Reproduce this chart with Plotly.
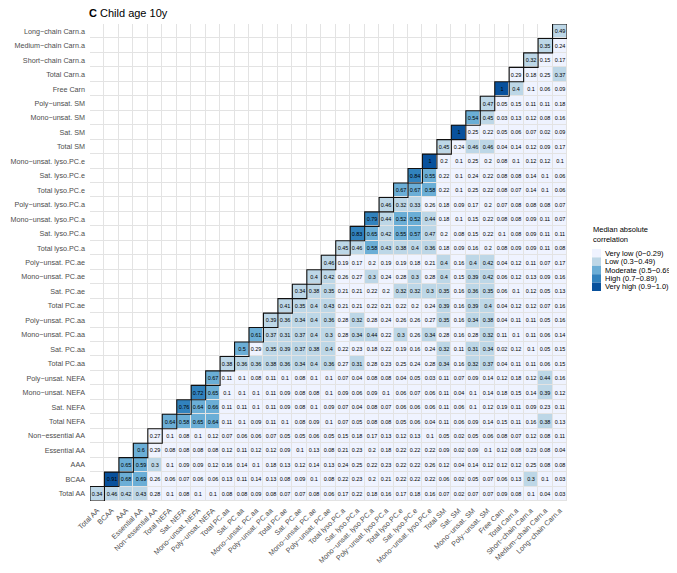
import plotly.graph_objects as go

# Variable groups (x and y categories, bottom-to-top / left-to-right)
labels = ["Total AA", "BCAA", "AAA", "Essential AA", "Non\u2212essential AA",
          "Total NEFA", "Sat. NEFA", "Mono\u2212unsat. NEFA", "Poly\u2212unsat. NEFA",
          "Total PC.aa", "Sat. PC.aa", "Mono\u2212unsat. PC.aa", "Poly\u2212unsat. PC.aa",
          "Total PC.ae", "Sat. PC.ae", "Mono\u2212unsat. PC.ae", "Poly\u2212unsat. PC.ae",
          "Total lyso.PC.a", "Sat. lyso.PC.a", "Mono\u2212unsat. lyso.PC.a", "Poly\u2212unsat. lyso.PC.a",
          "Total lyso.PC.e", "Sat. lyso.PC.e", "Mono\u2212unsat. lyso.PC.e",
          "Total SM", "Sat. SM", "Mono\u2212unsat. SM", "Poly\u2212unsat. SM",
          "Free Carn", "Total Carn.a", "Short\u2212chain Carn.a", "Medium\u2212chain Carn.a", "Long\u2212chain Carn.a"]

# Each row: values from the diagonal cell to the right-most column
row_total_aa = [0.34, 0.46, 0.42, 0.43, 0.28, 0.1, 0.08, 0.1, 0.1, 0.08,
                0.08, 0.09, 0.08, 0.07, 0.07, 0.08, 0.06, 0.17, 0.22,
                0.18, 0.16, 0.17, 0.18, 0.16, 0.07, 0.02, 0.07, 0.07, 0.09,
                0.08, 0.1, 0.04, 0.03]
row_bcaa = [0.91, 0.68, 0.69, 0.26, 0.06, 0.07, 0.06, 0.06, 0.13,
            0.11, 0.14, 0.13, 0.08, 0.09, 0.1, 0.08, 0.22, 0.23,
            0.2, 0.21, 0.22, 0.22, 0.22, 0.06, 0.02, 0.05, 0.07, 0.06,
            0.13, 0.3, 0.1, 0.03]
row_aaa = [0.65, 0.59, 0.3, 0.1, 0.09, 0.09, 0.12, 0.16,
           0.14, 0.1, 0.18, 0.13, 0.12, 0.14, 0.13, 0.24, 0.25,
           0.22, 0.23, 0.22, 0.22, 0.26, 0.12, 0.04, 0.14, 0.12, 0.12,
           0.12, 0.25, 0.08, 0.08]
row_essential_aa = [0.6, 0.29, 0.08, 0.08, 0.08, 0.08, 0.12,
                    0.11, 0.12, 0.12, 0.09, 0.1, 0.13, 0.08, 0.21, 0.23,
                    0.2, 0.18, 0.22, 0.22, 0.22, 0.09, 0.02, 0.09, 0.1, 0.12,
                    0.08, 0.23, 0.08, 0.04]
row_nonessential_aa = [0.27, 0.1, 0.08, 0.1, 0.12, 0.07,
                       0.06, 0.06, 0.07, 0.05, 0.05, 0.06, 0.05, 0.15, 0.18,
                       0.17, 0.13, 0.12, 0.13, 0.1, 0.05, 0.02, 0.05, 0.06, 0.08,
                       0.07, 0.12, 0.08, 0.11]
row_total_nefa = [0.64, 0.58, 0.65, 0.64, 0.11,
                  0.1, 0.09, 0.11, 0.1, 0.08, 0.09, 0.1, 0.07, 0.05,
                  0.08, 0.08, 0.05, 0.06, 0.04, 0.11, 0.06, 0.09, 0.14, 0.15,
                  0.11, 0.16, 0.38, 0.13]
row_sat_nefa = [0.76, 0.64, 0.66, 0.11,
                0.11, 0.1, 0.11, 0.09, 0.08, 0.1, 0.09, 0.07, 0.04,
                0.08, 0.07, 0.06, 0.06, 0.06, 0.11, 0.06, 0.1, 0.12, 0.19,
                0.11, 0.09, 0.23, 0.11]
row_mono_nefa = [0.72, 0.65, 0.1,
                 0.1, 0.1, 0.11, 0.09, 0.08, 0.08, 0.1, 0.09, 0.06,
                 0.09, 0.1, 0.06, 0.07, 0.06, 0.11, 0.04, 0.1, 0.14, 0.18,
                 0.15, 0.14, 0.39, 0.12]
row_poly_nefa = [0.67, 0.11,
                 0.1, 0.08, 0.11, 0.1, 0.08, 0.1, 0.1, 0.07, 0.04,
                 0.08, 0.08, 0.04, 0.05, 0.03, 0.11, 0.07, 0.09, 0.14, 0.12,
                 0.18, 0.12, 0.44, 0.16]
row_total_pcaa = [0.38,
                  0.36, 0.36, 0.38, 0.36, 0.34, 0.4, 0.36, 0.27, 0.31,
                  0.28, 0.23, 0.25, 0.24, 0.28, 0.34, 0.16, 0.32, 0.37, 0.04,
                  0.11, 0.11, 0.06, 0.15]
row_sat_pcaa = [0.5, 0.29, 0.35, 0.39, 0.37, 0.38, 0.4, 0.22, 0.23,
                0.18, 0.22, 0.19, 0.16, 0.24, 0.32, 0.11, 0.31, 0.34, 0.02,
                0.12, 0.1, 0.05, 0.15]
row_mono_pcaa = [0.61, 0.37, 0.31, 0.37, 0.4, 0.3, 0.28, 0.34,
                 0.44, 0.22, 0.3, 0.26, 0.34, 0.28, 0.16, 0.28, 0.32, 0.11,
                 0.1, 0.11, 0.06, 0.14]
row_poly_pcaa = [0.39, 0.36, 0.34, 0.4, 0.36, 0.28, 0.32,
                 0.28, 0.24, 0.26, 0.26, 0.27, 0.35, 0.16, 0.34, 0.38, 0.04,
                 0.11, 0.11, 0.05, 0.16]
row_total_pcae = [0.41, 0.35, 0.4, 0.43, 0.21, 0.21,
                  0.22, 0.21, 0.22, 0.2, 0.24, 0.39, 0.16, 0.39, 0.4, 0.04,
                  0.12, 0.12, 0.07, 0.16]
row_sat_pcae = [0.34, 0.38, 0.35, 0.21, 0.21,
                0.22, 0.2, 0.32, 0.32, 0.3, 0.35, 0.16, 0.36, 0.35, 0.06,
                0.1, 0.12, 0.05, 0.13]
row_mono_pcae = [0.4, 0.42, 0.26, 0.27,
                 0.3, 0.24, 0.28, 0.3, 0.28, 0.4, 0.15, 0.39, 0.42, 0.06,
                 0.12, 0.13, 0.09, 0.16]
row_poly_pcae = [0.46, 0.19, 0.17,
                 0.2, 0.19, 0.19, 0.18, 0.21, 0.4, 0.16, 0.4, 0.42, 0.04,
                 0.12, 0.11, 0.07, 0.17]
row_total_lysopca = [0.45, 0.46,
                     0.58, 0.43, 0.38, 0.4, 0.36, 0.18, 0.09, 0.16, 0.2, 0.08,
                     0.09, 0.09, 0.11, 0.08]
row_sat_lysopca = [0.83,
                   0.65, 0.42, 0.55, 0.57, 0.47, 0.2, 0.08, 0.15, 0.22, 0.1,
                   0.08, 0.09, 0.11, 0.11]
row_mono_lysopca = [0.79, 0.44, 0.52, 0.52, 0.44, 0.18, 0.1, 0.15, 0.22, 0.08,
                    0.08, 0.09, 0.11, 0.07]
row_poly_lysopca = [0.46, 0.32, 0.33, 0.26, 0.18, 0.09, 0.17, 0.2, 0.07,
                    0.08, 0.08, 0.08, 0.07]
row_total_lysopce = [0.67, 0.67, 0.58, 0.22, 0.1, 0.25, 0.22, 0.08,
                     0.07, 0.14, 0.1, 0.06]
row_sat_lysopce = [0.84, 0.55, 0.22, 0.1, 0.24, 0.22, 0.08,
                   0.08, 0.14, 0.1, 0.06]
row_mono_lysopce = [1, 0.2, 0.1, 0.25, 0.2, 0.08,
                    0.1, 0.12, 0.12, 0.1]
row_total_sm = [0.45, 0.24, 0.46, 0.46, 0.04, 0.14, 0.12, 0.09, 0.17]
row_sat_sm = [1, 0.25, 0.22, 0.05, 0.06, 0.07, 0.02, 0.09]
row_mono_sm = [0.54, 0.45, 0.03, 0.13, 0.12, 0.08, 0.16]
row_poly_sm = [0.47, 0.05, 0.15, 0.11, 0.11, 0.18]
row_free_carn = [1, 0.4, 0.1, 0.06, 0.09]
row_total_carn = [0.29, 0.18, 0.25, 0.37]
row_short_carn = [0.32, 0.15, 0.17]
row_medium_carn = [0.35, 0.24]
row_long_carn = [0.49]

rows = [row_total_aa, row_bcaa, row_aaa, row_essential_aa, row_nonessential_aa,
        row_total_nefa, row_sat_nefa, row_mono_nefa, row_poly_nefa,
        row_total_pcaa, row_sat_pcaa, row_mono_pcaa, row_poly_pcaa,
        row_total_pcae, row_sat_pcae, row_mono_pcae, row_poly_pcae,
        row_total_lysopca, row_sat_lysopca, row_mono_lysopca, row_poly_lysopca,
        row_total_lysopce, row_sat_lysopce, row_mono_lysopce,
        row_total_sm, row_sat_sm, row_mono_sm, row_poly_sm,
        row_free_carn, row_total_carn, row_short_carn, row_medium_carn, row_long_carn]

level_names = ["Very low (0\u22120.29)", "Low (0.3\u22120.49)", "Moderate (0.5\u22120.69)",
               "High (0.7\u22120.89)", "Very high (0.9\u22121.0)"]
level_colors = ["#EFF3FF", "#BDD7E7", "#6BAED6", "#3182BD", "#08519C"]
level_breaks = [0.3, 0.5, 0.7, 0.9]
legend_title = "Median absolute<br>correlation"

FONT = "Liberation Sans, Arial, Helvetica, sans-serif"

# The page body has an 8px default margin, so the figure is laid out
# 8px up/left of the intended screen positions.
OFF = 8
W, H = 677, 573
ML, MR, MT, MB = 90 - OFF, 110 + OFF, 24 - OFF, 72 + OFF
PW, PH = W - ML - MR, H - MT - MB


def level(v):
    return sum(1 for b in level_breaks if v >= b - 1e-9)


def px_x(sx):
    return (sx - OFF - ML) / PW


def px_y(sy):
    return (H - MB - (sy - OFF)) / PH


n = len(labels)
nlev = len(level_names)
z = [[None] * n for _ in range(n)]
txt = [[""] * n for _ in range(n)]
for r, vals in enumerate(rows):
    for j, v in enumerate(vals):
        c = r + j
        z[r][c] = level(v)
        txt[r][c] = f"{v:g}"

colorscale = []
for j in range(nlev):
    colorscale.append([j / nlev, level_colors[j]])
    colorscale.append([(j + 1) / nlev, level_colors[j]])

fig = go.Figure()

# white background tiles (empty half) with grey borders via gaps
fig.add_trace(go.Heatmap(
    x=labels, y=labels, z=[[0] * n for _ in range(n)],
    colorscale=[[0, "white"], [1, "white"]], showscale=False,
    xgap=1, ygap=1, hoverinfo="skip"))

fig.add_trace(go.Heatmap(
    x=labels, y=labels, z=z, text=txt, texttemplate="%{text}",
    textfont=dict(size=5.5, color="black", family=FONT),
    colorscale=colorscale, zmin=-0.5, zmax=nlev - 0.5, showscale=False,
    xgap=1, ygap=1, hoverinfo="skip"))

# black outline on diagonal cells
for i in range(n):
    fig.add_shape(type="rect", xref="x", yref="y",
                  x0=i - 0.5, x1=i + 0.5, y0=i - 0.5, y1=i + 0.5,
                  line=dict(color="#111111", width=1.1), fillcolor="rgba(0,0,0,0)")

# key (legend) for the five categories
key_x0, key_w, key_top, key_h = 592, 9, 249, 8.4
for k in range(nlev):
    y0 = key_top + k * key_h
    fig.add_shape(type="rect", xref="paper", yref="paper",
                  x0=px_x(key_x0), x1=px_x(key_x0 + key_w),
                  y0=px_y(y0 + key_h), y1=px_y(y0),
                  line=dict(width=0), fillcolor=level_colors[k], layer="above")
    fig.add_annotation(text=level_names[k], xref="paper", yref="paper",
                       x=px_x(key_x0 + key_w + 2), y=px_y(y0 + key_h / 2),
                       xanchor="left", yanchor="middle", showarrow=False,
                       font=dict(size=7.5, color="black", family=FONT))
fig.add_annotation(text=legend_title, xref="paper", yref="paper",
                   x=px_x(key_x0 - 1), y=px_y(key_top - 3),
                   xanchor="left", yanchor="bottom", showarrow=False, align="left",
                   font=dict(size=7.5, color="black", family=FONT))

fig.add_annotation(text="<b>C</b> Child age 10y", xref="paper", yref="paper",
                   x=px_x(87), y=px_y(13), xanchor="left", yanchor="middle",
                   showarrow=False, font=dict(size=11, color="black", family=FONT))

fig.update_xaxes(range=[-0.5, n - 0.5], tickangle=-45, showgrid=False, zeroline=False,
                 ticks="", tickfont=dict(size=7.2, color="#4d4d4d", family=FONT),
                 ticklabelstandoff=3, automargin=False, fixedrange=True, showline=False)
fig.update_yaxes(range=[-0.5, n - 0.5], showgrid=False, zeroline=False,
                 ticks="", tickfont=dict(size=7.2, color="#4d4d4d", family=FONT),
                 ticklabelstandoff=4, automargin=False, fixedrange=True, showline=False)

fig.update_layout(template="none", width=W, height=H,
                  margin=dict(l=ML, r=MR, t=MT, b=MB),
                  plot_bgcolor="#e3e3e3", paper_bgcolor="white",
                  font=dict(family=FONT, color="#4d4d4d"), showlegend=False)

fig.write_html("out.html")
